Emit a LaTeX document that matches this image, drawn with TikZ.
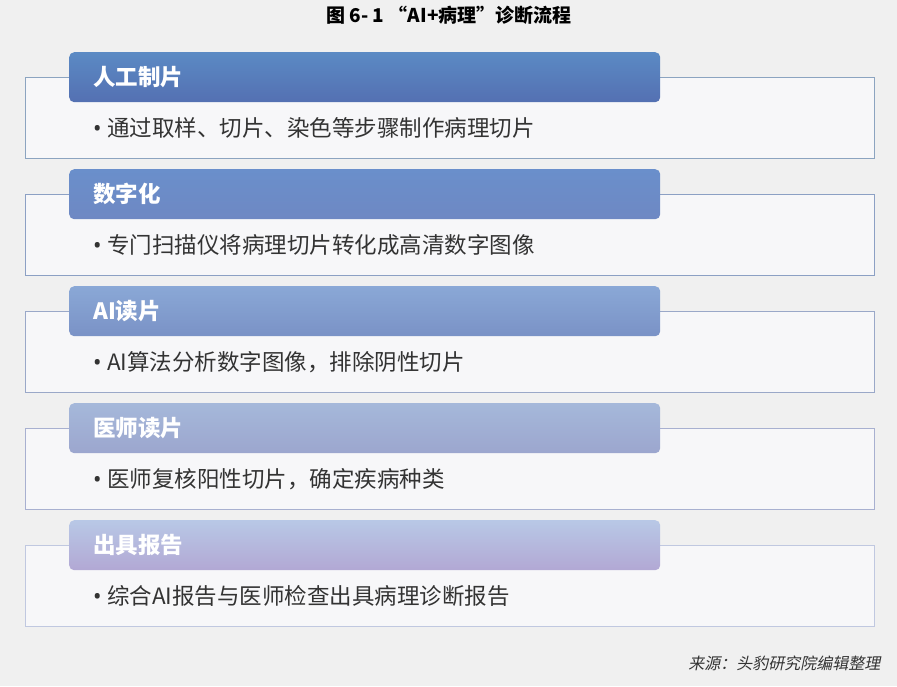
\documentclass[tikz,border=0pt]{standalone}
\usepackage{fontspec}
\setmainfont{Noto Sans CJK SC}[ItalicFont=Noto Sans CJK SC,ItalicFeatures={FakeSlant=0.2}]
\newfontfamily\latinfont{Noto Sans}

\definecolor{pagebg}{HTML}{F0F0F0}
\definecolor{boxfill}{HTML}{F7F7F9}
\definecolor{txtgray}{HTML}{333333}
% frame line colours, step 1 to 5
\definecolor{lineA}{HTML}{8CA4C0}
\definecolor{lineB}{HTML}{8CA0C4}
\definecolor{lineC}{HTML}{9AA8C8}
\definecolor{lineD}{HTML}{A8B0D0}
\definecolor{lineE}{HTML}{C0C8E0}
% header shading, top and bottom
\definecolor{topA}{HTML}{5B8AC4}
\definecolor{botA}{HTML}{5470B2}
\definecolor{topB}{HTML}{6A8FCB}
\definecolor{botB}{HTML}{6E88C3}
\definecolor{topC}{HTML}{8AA8D6}
\definecolor{botC}{HTML}{7A92C6}
\definecolor{topD}{HTML}{A5B8DA}
\definecolor{botD}{HTML}{9CA6CE}
\definecolor{topE}{HTML}{B8C8E6}
\definecolor{botE}{HTML}{B2A8D4}

\newcommand{\itemdot}{{\latinfont •}\hspace{5.5pt}}

\begin{document}
\begin{tikzpicture}[x=1pt,y=-1pt,
    frame/.style={draw=#1,line width=0.8pt,fill=boxfill,minimum width=849pt,minimum height=81pt,anchor=north west,inner sep=0pt},
    head/.style={rounded corners=5pt,minimum width=591pt,minimum height=50pt,anchor=north west,
        text width=543pt,inner xsep=24pt,inner ysep=0pt,align=left,text=white,font=\bfseries\fontsize{22.5}{26}\selectfont},
    item/.style={anchor=west,text=txtgray,inner sep=0pt,font=\fontsize{22.5}{26}\selectfont}]
    \fill[pagebg] (0,0) rectangle (897,686);
    \useasboundingbox (0,0) rectangle (897,686);

    \node[font=\bfseries\fontsize{19}{23}\selectfont] (title) at (449,15) {图 6- 1 “AI+病理”诊断流程};

    % step 1
    \node[frame=lineA] (f1) at (25,77) {};
    \node[head,top color=topA,bottom color=botA] (h1) at (69,52) {人工制片};
    \node[item] (t1) at (93,128) {\itemdot 通过取样、切片、染色等步骤制作病理切片};

    % step 2
    \node[frame=lineB] (f2) at (25,194) {};
    \node[head,top color=topB,bottom color=botB] (h2) at (69,169) {数字化};
    \node[item] (t2) at (93,245) {\itemdot 专门扫描仪将病理切片转化成高清数字图像};

    % step 3
    \node[frame=lineC] (f3) at (25,311) {};
    \node[head,top color=topC,bottom color=botC] (h3) at (69,286) {AI读片};
    \node[item] (t3) at (93,362) {\itemdot AI算法分析数字图像，排除阴性切片};

    % step 4
    \node[frame=lineD] (f4) at (25,428) {};
    \node[head,top color=topD,bottom color=botD] (h4) at (69,403) {医师读片};
    \node[item] (t4) at (93,479) {\itemdot 医师复核阳性切片，确定疾病种类};

    % step 5
    \node[frame=lineE] (f5) at (25,545) {};
    \node[head,top color=topE,bottom color=botE] (h5) at (69,520) {出具报告};
    \node[item] (t5) at (93,596) {\itemdot 综合AI报告与医师检查出具病理诊断报告};

    \node[anchor=east,text=txtgray,font=\itshape\fontsize{16}{20}\selectfont] (src) at (884,663) {来源：头豹研究院编辑整理};
\end{tikzpicture}
\end{document}
